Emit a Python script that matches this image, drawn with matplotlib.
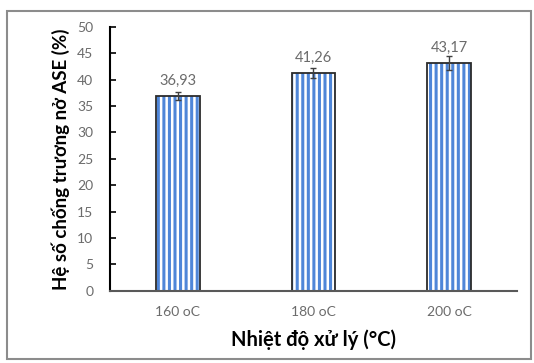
import matplotlib
matplotlib.use("Agg")
import matplotlib.pyplot as plt
from matplotlib.patches import Rectangle
import numpy as np

categories = ["160 oC", "180 oC", "200 oC"]
ase_values = [36.93, 41.26, 43.17]
ase_errors = [0.8, 1.0, 1.3]
value_labels = ["36,93", "41,26", "43,17"]
y_ticks = [0, 5, 10, 15, 20, 25, 30, 35, 40, 45, 50]

plt.rcParams['font.family'] = ['Lato', 'DejaVu Sans']
plt.rcParams['hatch.linewidth'] = 2.2
plt.rcParams['hatch.color'] = '#4F86D8'

fig = plt.figure(figsize=(5.34, 3.63), dpi=100)
fig.patches.append(Rectangle((0.013, 0.01), 0.982, 0.96, transform=fig.transFigure,
                             fill=False, edgecolor='#8c8c8c', linewidth=1.5))
ax = fig.add_axes([0.206, 0.199, 0.762, 0.727])

x = np.arange(len(categories))
width = 0.32
ax.bar(x, ase_values, width, color='white', edgecolor='#4F86D8', hatch='|||', linewidth=0)
ax.bar(x, ase_values, width, fill=False, edgecolor='#2b2b2b', linewidth=1.3)
ax.errorbar(x, ase_values, yerr=ase_errors, fmt='none', ecolor='#404040',
            elinewidth=1.0, capsize=2.5, capthick=1.0)

for xi, v, e, lab in zip(x, ase_values, ase_errors, value_labels):
    ax.text(xi, v + 1.5, lab, ha='center', va='bottom', fontsize=10.5, color='#6b6b6b')

ax.set_xlim(-0.5, 2.5)
ax.set_ylim(0, 50)
ax.set_yticks(y_ticks)
ax.set_xticks(x)
ax.set_xticklabels(categories)
ax.tick_params(axis='y', direction='in', length=4, width=1.2, colors='black',
               labelcolor='#6b6b6b', labelsize=10, pad=12)
ax.tick_params(axis='x', length=0, labelcolor='#6b6b6b', labelsize=10, pad=11)

ax.spines['top'].set_visible(False)
ax.spines['right'].set_visible(False)
ax.spines['left'].set_linewidth(1.5)
ax.spines['left'].set_color('black')
ax.spines['bottom'].set_linewidth(1.5)
ax.spines['bottom'].set_color('#595959')

ax.set_ylabel("Hệ số chống trương nở ASE (%)", fontsize=13.5, fontweight='bold', labelpad=5)
ax.set_xlabel("Nhiệt độ xử lý (°C)", fontsize=14.5, fontweight='bold', labelpad=8)

fig.savefig("out.png", dpi=100)
